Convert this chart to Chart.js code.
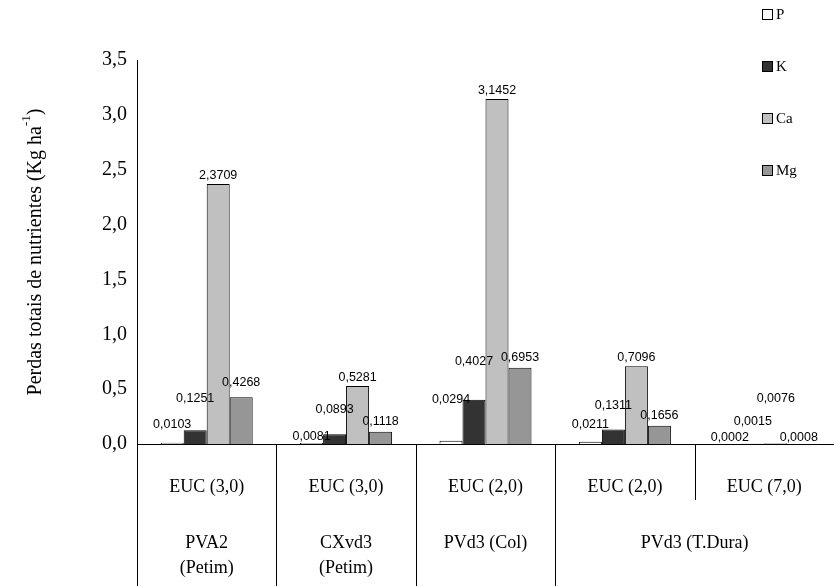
<!DOCTYPE html>
<html><head><meta charset="utf-8">
<script src="https://cdn.jsdelivr.net/npm/chart.js@4/dist/chart.umd.min.js"></script>
<style>
body{margin:0;background:#fff}
#wrap{position:relative;width:834px;height:586px}
.lg{position:absolute;left:762px;font:15px "Liberation Serif";color:#000;display:flex;align-items:center}
.lg i{display:inline-block;width:9px;height:9px;border:1px solid #000;margin-right:3px}
</style></head><body>
<div id="wrap"><canvas id="c" width="834" height="586"></canvas>
<div class="lg" style="top:6px"><i style="background:#fff"></i>P</div>
<div class="lg" style="top:58px"><i style="background:#333"></i>K</div>
<div class="lg" style="top:110px"><i style="background:#c0c0c0"></i>Ca</div>
<div class="lg" style="top:162px"><i style="background:#969696"></i>Mg</div>
</div>
<script>
const treatments = ['EUC (3,0)', 'EUC (3,0)', 'EUC (2,0)', 'EUC (2,0)', 'EUC (7,0)'];
const soils = [['PVA2', '(Petim)'], ['CXvd3', '(Petim)'], ['PVd3 (Col)'], ['PVd3 (T.Dura)']];
const soilSpans = [[0, 0], [1, 1], [2, 2], [3, 4]];
const P = [0.0103, 0.0081, 0.0294, 0.0211, 0.0002];
const K = [0.1251, 0.0893, 0.4027, 0.1311, 0.0015];
const Ca = [2.3709, 0.5281, 3.1452, 0.7096, 0.0076];
const Mg = [0.4268, 0.1118, 0.6953, 0.1656, 0.0008];
const yTicks = [0, 0.5, 1, 1.5, 2, 2.5, 3, 3.5];

// label lift above bar top, px
const lift = [[24, 12, 47, 23, 12], [37, 30, 44, 30, 28], [14, 14, 14, 14, 50], [20, 16, 16, 16, 12]];
const fmt = v => v.toFixed(4).replace('.', ',');

const overlay = {
  id: 'overlay',
  afterDraw(chart) {
    const ctx = chart.ctx, x = chart.scales.x, y = chart.scales.y;
    const top = y.bottom, L = chart.chartArea.left, R = chart.chartArea.right;
    ctx.save();
    ctx.font = '12.5px "Liberation Sans"';
    ctx.fillStyle = '#000'; ctx.textAlign = 'center'; ctx.textBaseline = 'bottom';
    chart.data.datasets.forEach((ds, di) => {
      chart.getDatasetMeta(di).data.forEach((bar, i) => {
        ctx.fillText(fmt(ds.data[i]), bar.x, bar.y - lift[di][i] + 12);
      });
    });
    const step = x.getPixelForValue(1) - x.getPixelForValue(0);
    const edge = i => x.getPixelForValue(i) - step / 2;
    ctx.strokeStyle = '#000'; ctx.lineWidth = 1;
    ctx.beginPath();
    ctx.moveTo(L, top + 0.5); ctx.lineTo(R, top + 0.5);
    for (let i = 0; i <= treatments.length; i++) {
      const xe = Math.round(edge(i)) + 0.5;
      const full = soilSpans.some(s => s[0] === i) || i === treatments.length || i === 0;
      ctx.moveTo(xe, top); ctx.lineTo(xe, full ? 586 : top + 56);
    }
    ctx.stroke();
    ctx.font = '18px "Liberation Serif"'; ctx.textBaseline = 'middle';
    treatments.forEach((t, i) => ctx.fillText(t, x.getPixelForValue(i), top + 43));
    soils.forEach((s, k) => {
      const cx = (edge(soilSpans[k][0]) + edge(soilSpans[k][1] + 1)) / 2;
      s.forEach((line, j) => ctx.fillText(line, cx, top + 99 + j * 25));
    });
    ctx.translate(36, (y.top + y.bottom) / 2);
    ctx.rotate(-Math.PI / 2);
    const main = 'Perdas totais de nutrientes (Kg ha', sup = '-1', end = ')';
    ctx.font = '20px "Liberation Serif"';
    const w1 = ctx.measureText(main).width, w3 = ctx.measureText(end).width;
    ctx.font = '13px "Liberation Serif"';
    const w2 = ctx.measureText(sup).width;
    let sx = -(w1 + w2 + w3) / 2;
    ctx.textAlign = 'left';
    ctx.font = '20px "Liberation Serif"'; ctx.fillText(main, sx, 0); sx += w1;
    ctx.font = '13px "Liberation Serif"'; ctx.fillText(sup, sx, -9); sx += w2;
    ctx.font = '20px "Liberation Serif"'; ctx.fillText(end, sx, 0);
    ctx.restore();
  }
};

const mk = (label, data, color) => ({ label, data, backgroundColor: color, borderColor: '#000', borderWidth: 1,
  categoryPercentage: 0.66, barPercentage: 1 });

new Chart(document.getElementById('c'), {
  type: 'bar',
  data: { labels: treatments, datasets: [mk('P', P, '#ffffff'), mk('K', K, '#333333'), mk('Ca', Ca, '#c0c0c0'), mk('Mg', Mg, '#969696')] },
  options: {
    responsive: false, animation: false,
    layout: { padding: { left: 0, right: 0, top: 60, bottom: 142 } },
    plugins: { legend: { display: false }, tooltip: { enabled: false } },
    scales: {
      x: { grid: { display: false, drawTicks: false }, border: { display: false }, ticks: { display: false } },
      y: {
        min: 0, max: 3.5, afterBuildTicks: s => { s.ticks = yTicks.map(v => ({ value: v })); },
        afterFit: s => { s.width = 137; },
        grid: { display: false, drawTicks: true, tickLength: 6, tickColor: '#000' },
        border: { color: '#000' },
        ticks: { color: '#000', font: { family: 'Liberation Serif', size: 20 }, padding: 4,
          callback: v => v.toFixed(1).replace('.', ',') }
      }
    }
  },
  plugins: [overlay]
});
</script>
</body></html>
